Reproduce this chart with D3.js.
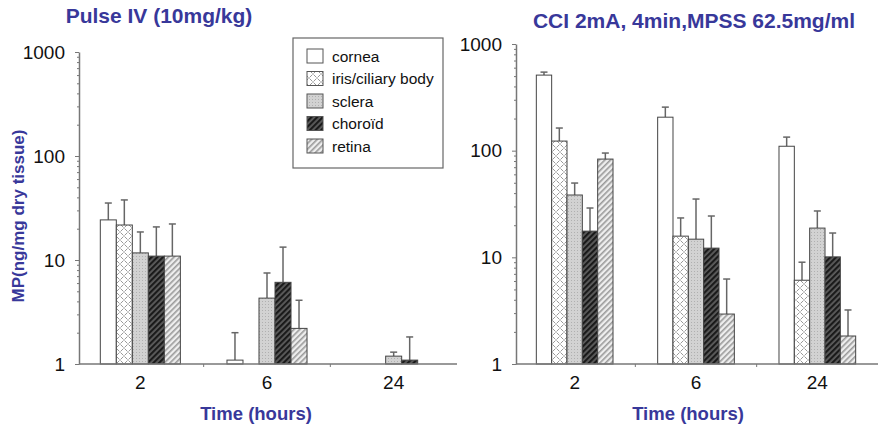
<!DOCTYPE html>
<html>
<head>
<meta charset="utf-8">
<script src="https://cdn.jsdelivr.net/npm/d3@7"></script>
<style>
  body { margin: 0; background: #fff; }
  text { font-family: "Liberation Sans", Arial, sans-serif; }
</style>
</head>
<body>
<script>
var width = 878, height = 426;

// data
var times = ["2", "6", "24"];
var tissues = ["cornea", "iris/ciliary body", "sclera", "choroïd", "retina"];

// Pulse IV (10mg/kg): mean per time, one row per tissue (null = not shown)
var pulseMean = [
  [24.3, 1.09, null],
  [21.7, null, null],
  [11.7, 4.3, 1.19],
  [10.9, 6.1, 1.09],
  [10.9, 2.2, null]
];
var pulseErr = [
  [35.3, 2.0, null],
  [37.8, null, null],
  [18.6, 7.5, 1.3],
  [20.8, 13.3, 1.82],
  [22.2, 4.1, null]
];

// CCI 2mA, 4min, MPSS 62.5mg/ml
var cciMean = [
  [511, 206, 110],
  [123, 15.8, 6.1],
  [38.4, 14.8, 18.8],
  [17.6, 12.2, 10.1],
  [83.4, 2.94, 1.83]
];
var cciErr = [
  [545, 256, 134],
  [163, 23.4, 9.0],
  [49.7, 35.2, 27.2],
  [29, 24.4, 16.9],
  [95, 6.26, 3.21]
];

var majorTicks = [1, 10, 100, 1000];

var titleColor = "#38389a";
var axisColor = "#777";

var svg = d3.select("body").append("svg")
    .attr("width", width)
    .attr("height", height);

// fill patterns for the tissues
var defs = svg.append("defs");

var pIris = defs.append("pattern").attr("id", "p-iris")
    .attr("patternUnits", "userSpaceOnUse").attr("width", 8).attr("height", 8);
pIris.append("rect").attr("width", 8).attr("height", 8).attr("fill", "#fff");
pIris.append("path").attr("d", "M0.5,0.5 L3.5,3.5 M4.5,4.5 L7.5,7.5 M4.5,3.5 L7.5,0.5 M0.5,7.5 L3.5,4.5")
    .attr("stroke", "#999").attr("stroke-width", 1);

var pSclera = defs.append("pattern").attr("id", "p-sclera")
    .attr("patternUnits", "userSpaceOnUse").attr("width", 3).attr("height", 3);
pSclera.append("rect").attr("width", 3).attr("height", 3).attr("fill", "#d2d2d2");
pSclera.append("rect").attr("x", 1).attr("y", 1).attr("width", 1).attr("height", 1).attr("fill", "#b0b0b0");

var pChoroid = defs.append("pattern").attr("id", "p-choroid")
    .attr("patternUnits", "userSpaceOnUse").attr("width", 4).attr("height", 4)
    .attr("patternTransform", "rotate(45)");
pChoroid.append("rect").attr("width", 4).attr("height", 4).attr("fill", "#5e5e5e");
pChoroid.append("rect").attr("width", 2.2).attr("height", 4).attr("fill", "#1a1a1a");

var pRetina = defs.append("pattern").attr("id", "p-retina")
    .attr("patternUnits", "userSpaceOnUse").attr("width", 4).attr("height", 4)
    .attr("patternTransform", "rotate(45)");
pRetina.append("rect").attr("width", 4).attr("height", 4).attr("fill", "#eee");
pRetina.append("rect").attr("width", 1.6).attr("height", 4).attr("fill", "#9a9a9a");

var fills = ["#fff", "url(#p-iris)", "url(#p-sclera)", "url(#p-choroid)", "url(#p-retina)"];

function drawPanel(opts) {
  var y = d3.scaleLog().domain([1, 1000]).range([364, opts.top]);
  var x0 = d3.scaleBand().domain(times).range(opts.xRange).padding(0);
  var groupW = x0.bandwidth() * 0.632;
  var x1 = d3.scaleBand().domain(tissues).range([0, groupW]).padding(0);
  var offset = (x0.bandwidth() - groupW) / 2;

  var g = svg.append("g");

  // bars
  tissues.forEach(function(t, i) {
    times.forEach(function(tm, j) {
      var v = opts.mean[i][j];
      if (v == null) return;
      var bx = x0(tm) + offset + x1(t);
      var bw = x1.bandwidth();
      var e = opts.err[i][j];
      if (e != null) {
        var cx = bx + bw / 2;
        g.append("line")
            .attr("x1", cx).attr("x2", cx)
            .attr("y1", y(v)).attr("y2", y(e))
            .attr("stroke", "#666").attr("stroke-width", 1.5);
        g.append("line")
            .attr("x1", cx - 3.5).attr("x2", cx + 3.5)
            .attr("y1", y(e)).attr("y2", y(e))
            .attr("stroke", "#666").attr("stroke-width", 1.5);
      }
      g.append("rect")
          .attr("x", bx).attr("y", y(v))
          .attr("width", bw).attr("height", y(1) - y(v))
          .attr("fill", fills[i])
          .attr("stroke", "#444").attr("stroke-width", 1);
    });
  });

  // y axis with minor ticks
  var minor = y.ticks().filter(function(d) { return majorTicks.indexOf(d) < 0; });
  g.append("g")
      .attr("transform", "translate(" + opts.axisX + ",0)")
      .call(d3.axisLeft(y).tickValues(minor).tickSize(2).tickFormat(""))
      .call(function(s) {
        s.select(".domain").remove();
        s.selectAll("line").attr("stroke", axisColor);
      });
  g.append("g")
      .attr("transform", "translate(" + opts.axisX + ",0)")
      .call(d3.axisLeft(y).tickValues(majorTicks).tickSize(4).tickSizeOuter(0)
        .tickPadding(10).tickFormat(d3.format("d")))
      .call(function(s) {
        s.select(".domain").attr("stroke", axisColor).attr("stroke-width", 1.5);
        s.selectAll("line").attr("stroke", axisColor);
        s.selectAll("text").attr("font-size", 19).attr("fill", "#111");
      });

  // x axis
  var xa = g.append("g")
      .attr("transform", "translate(0,364)")
      .call(d3.axisBottom(x0).tickSize(0).tickSizeOuter(0).tickPadding(12));
  xa.select(".domain").attr("stroke", axisColor).attr("stroke-width", 1.5)
      .attr("d", "M" + opts.axisX + ",0H" + opts.xRange[1]);
  xa.selectAll("text").attr("font-size", 19).attr("fill", "#111");
  // separators between time groups
  times.slice(1).forEach(function(tm) {
    xa.append("line")
        .attr("x1", x0(tm)).attr("x2", x0(tm))
        .attr("y1", 0).attr("y2", 3)
        .attr("stroke", axisColor);
  });

  // titles
  svg.append("text")
      .attr("x", opts.titleX).attr("y", opts.titleY)
      .attr("text-anchor", "middle")
      .attr("font-size", 21).attr("font-weight", "bold")
      .attr("fill", titleColor)
      .text(opts.title);
  svg.append("text")
      .attr("x", opts.xLabelX).attr("y", 420)
      .attr("text-anchor", "middle")
      .attr("font-size", 18.5).attr("font-weight", "bold")
      .attr("fill", titleColor)
      .text("Time (hours)");
}

drawPanel({
  mean: pulseMean, err: pulseErr,
  top: 52, axisX: 79, xRange: [77, 457],
  title: "Pulse IV (10mg/kg)", titleX: 159, titleY: 23, xLabelX: 256
});

drawPanel({
  mean: cciMean, err: cciErr,
  top: 44, axisX: 516, xRange: [514, 878],
  title: "CCI 2mA, 4min,MPSS 62.5mg/ml", titleX: 694, titleY: 28, xLabelX: 688
});

// y axis label
svg.append("text")
    .attr("transform", "translate(24,216) rotate(-90)")
    .attr("text-anchor", "middle")
    .attr("font-size", 17).attr("font-weight", "bold")
    .attr("fill", titleColor)
    .text("MP(ng/mg dry tissue)");

// legend
var legend = svg.append("g").attr("transform", "translate(293,38)");
legend.append("rect")
    .attr("width", 150).attr("height", 130)
    .attr("fill", "#fff").attr("stroke", "#666").attr("stroke-width", 1.2);
tissues.forEach(function(t, i) {
  var ly = 18 + i * 22.5;
  legend.append("rect")
      .attr("x", 14).attr("y", ly - 7)
      .attr("width", 16).attr("height", 14)
      .attr("fill", fills[i]).attr("stroke", "#555");
  legend.append("text")
      .attr("x", 39).attr("y", ly + 5.5)
      .attr("font-size", 15.5).attr("fill", "#111")
      .text(t);
});
</script>
</body>
</html>
